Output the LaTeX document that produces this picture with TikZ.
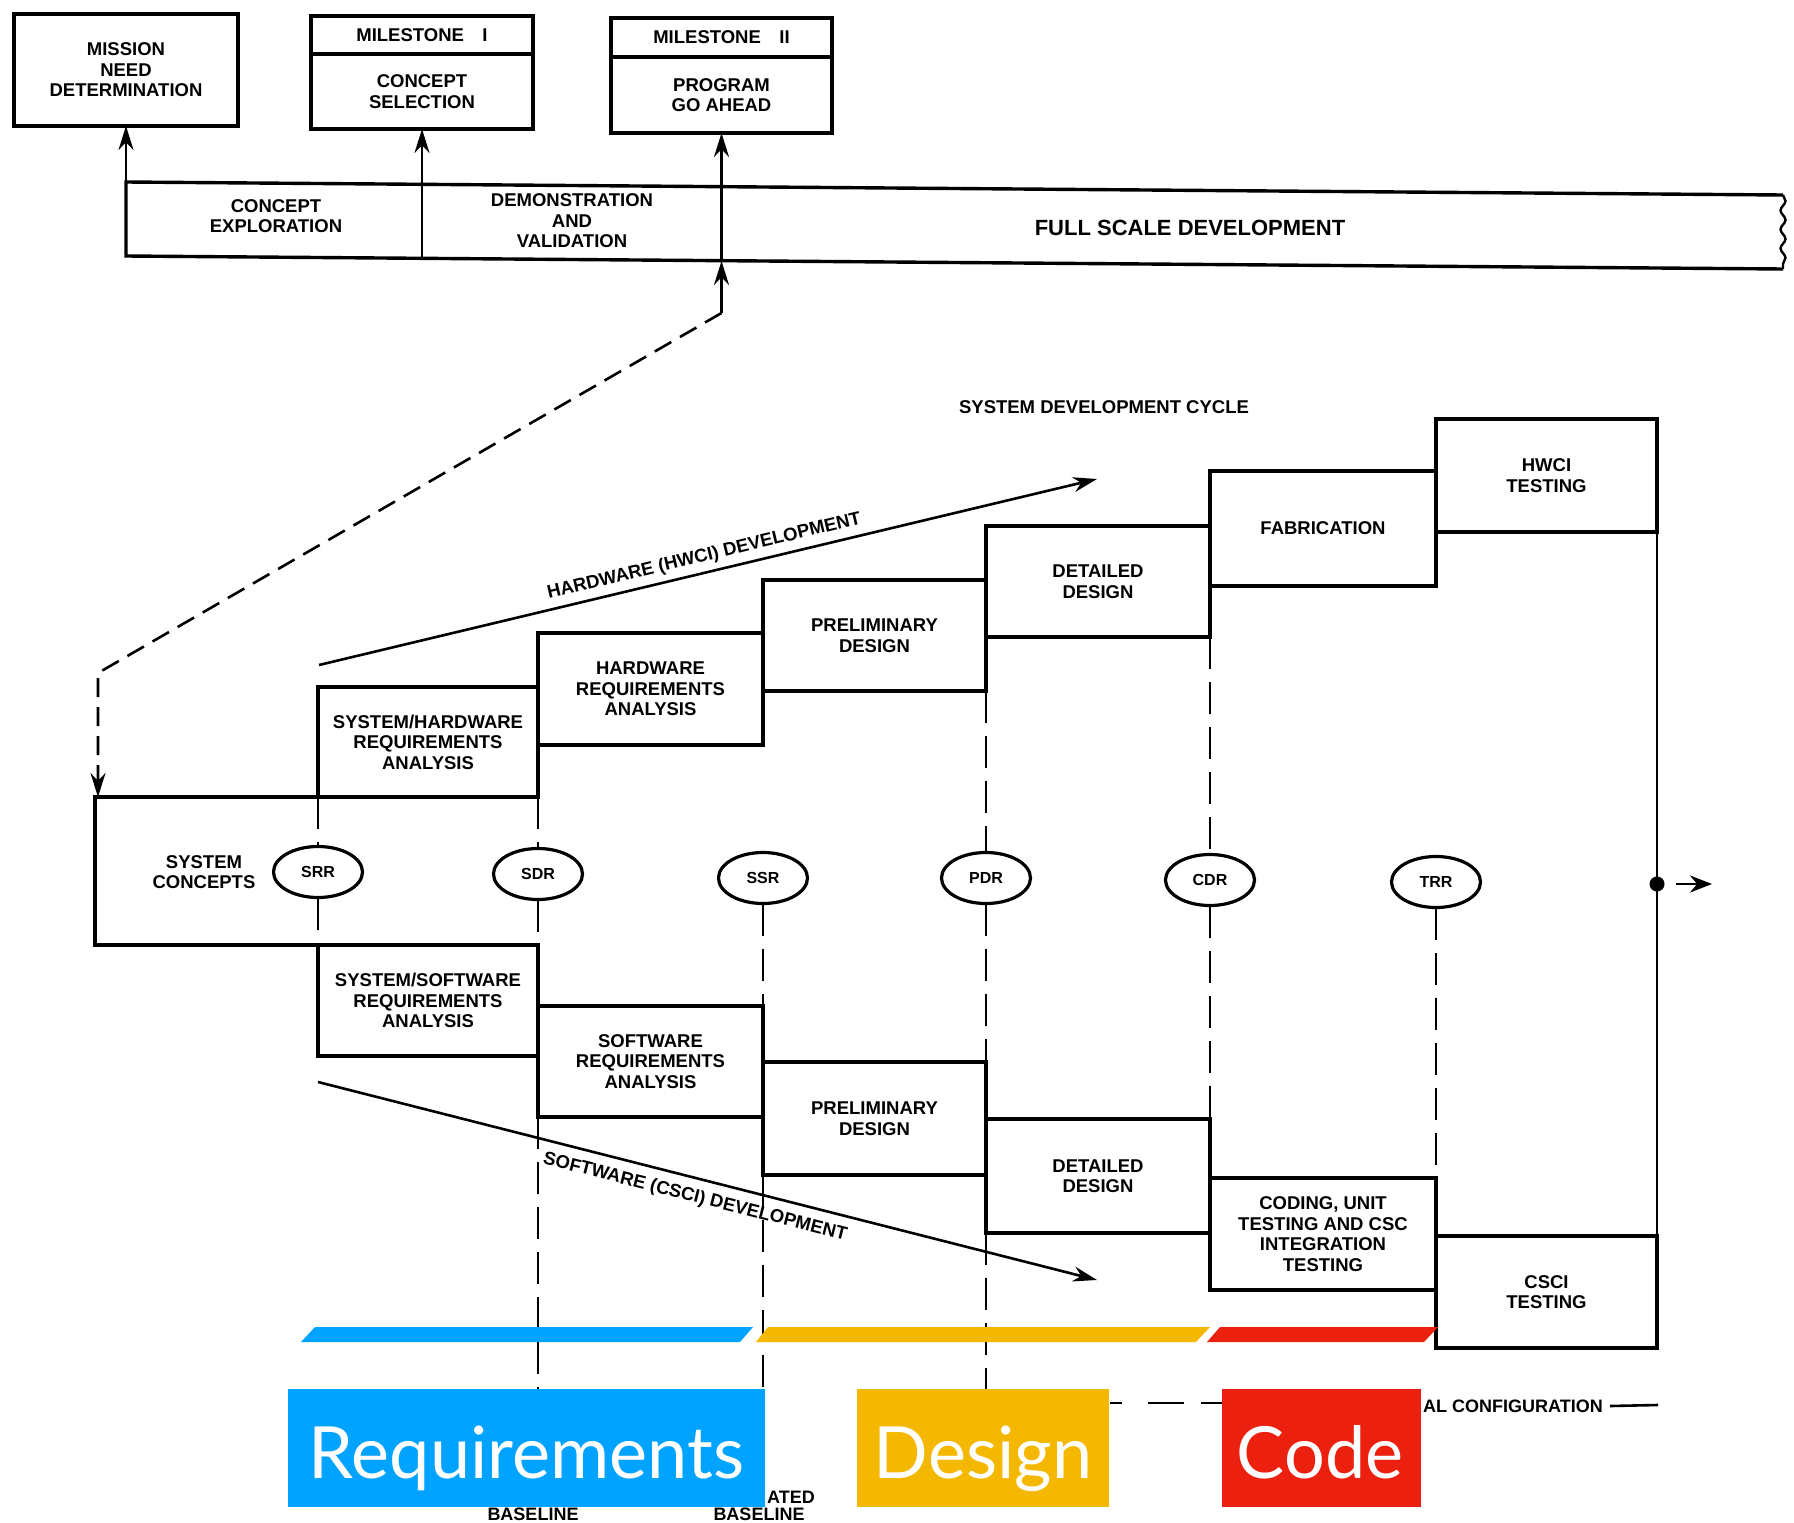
\documentclass[tikz,border=0pt]{standalone}
\usepackage{fontspec}
\setmainfont{Liberation Sans}
\newfontfamily\tagfont{Lato}
\usetikzlibrary{arrows.meta,shapes.geometric,decorations.pathmorphing}

\definecolor{reqblue}{RGB}{0,163,255}
\definecolor{desyellow}{RGB}{245,184,0}
\definecolor{codered}{RGB}{236,32,14}

\tikzset{
  lettering/.style={font=\fontsize{18.5}{20.5}\selectfont\bfseries, align=center, inner sep=0pt},
  bigletter/.style={font=\fontsize{22}{24}\selectfont\bfseries, align=center, inner sep=0pt},
  stagefr/.style={draw, rectangle, line width=3.4pt, outer sep=0pt, inner sep=0pt,
                  font=\fontsize{18.5}{20.5}\selectfont\bfseries, align=center},
  reviewel/.style={draw, ellipse, line width=3.2pt, minimum width=89pt, minimum height=51pt,
                   inner sep=0pt, outer sep=0pt, font=\fontsize{16}{18}\selectfont\bfseries},
  plainlink/.style={line width=2.6pt},
  headed/.style={-{Stealth[length=24pt,width=15pt]}},
  revline/.style={line width=2.4pt, dash pattern=on 32pt off 13pt},
  dashlink/.style={line width=2.6pt, dash pattern=on 19pt off 10pt},
  tagbox/.style={rectangle, inner sep=0pt, outer sep=0pt, minimum height=118pt},
  tagword/.style={font=\tagfont\fontsize{72}{72}\selectfont, text=white, inner sep=0pt, anchor=base},
  annot/.style={font=\fontsize{18}{20}\selectfont\bfseries, inner sep=0pt},
}

% rectangle given by its corners, with centred text
\newcommand\stagebox[6]{%
  \node[stagefr, minimum width={(#4-#2)*1pt}, minimum height={(#5-#3)*1pt}]
    (#1) at ({(#2+#4)/2},{(#3+#5)/2}) {#6};}

\begin{document}
\begin{tikzpicture}[x=1pt,y=-1pt]
\useasboundingbox (0,0) rectangle (1794,1523);
\fill[white] (0,0) rectangle (1794,1523);

% ---- acquisition milestones ----
\stagebox{mnd}{14}{14}{238}{126}{MISSION\\NEED\\DETERMINATION}
\stagebox{msoneh}{311}{16}{533}{54}{MILESTONE\quad I}
\stagebox{msone}{311}{54}{533}{129}{CONCEPT\\SELECTION}
\stagebox{mstwoh}{611}{18}{832}{57}{MILESTONE\quad II}
\stagebox{mstwo}{611}{57}{832}{133}{PROGRAM\\GO AHEAD}

% ---- acquisition phase band ----
\coordinate (bandTL) at (126,182);
\coordinate (bandBL) at (126,256);
\coordinate (bandTR) at (1783,195);
\coordinate (bandBR) at (1783,269);
\coordinate (dividerA) at (422,258);
\coordinate (dividerB) at (721.5,261);
\draw[line width=3.4pt] (bandTR) -- (bandTL) -- (bandBL) -- (bandBR);
\draw[line width=2.4pt, decorate, decoration={snake, amplitude=2.5pt, segment length=19pt}]
  (bandTR) -- (bandBR);

\draw[plainlink, headed] (bandBL) -- (mnd.south);
\draw[plainlink, headed] (dividerA) -- (msone.south);
\draw[plainlink, headed] (dividerB) -- (mstwo.south);

\node[lettering] (ce) at (276,216) {CONCEPT\\EXPLORATION};
\node[lettering] (dv) at (572,221) {DEMONSTRATION\\AND\\VALIDATION};
\node[bigletter] (fsd) at (1190,228) {FULL SCALE DEVELOPMENT};

% ---- system development cycle ----
\node[lettering] (sdc) at (1104,407) {SYSTEM DEVELOPMENT CYCLE};

% hardware steps
\stagebox{hone}{318}{687}{538}{797}{SYSTEM/HARDWARE\\REQUIREMENTS\\ANALYSIS}
\stagebox{htwo}{538}{633}{763}{745}{HARDWARE\\REQUIREMENTS\\ANALYSIS}
\stagebox{hthree}{763}{580}{986}{691}{PRELIMINARY\\DESIGN}
\stagebox{hfour}{986}{526}{1210}{637}{DETAILED\\DESIGN}
\stagebox{hfive}{1210}{471}{1436}{586}{FABRICATION}
\stagebox{hsix}{1436}{419}{1657}{532}{HWCI\\TESTING}

% system concepts: open on the right, where the SDR line runs
\coordinate (scNW) at (95,797);
\coordinate (scSW) at (95,945);
\coordinate (scNE) at (538,797);
\coordinate (scSE) at (538,945);
\draw[line width=3.4pt] (scNE) -- (scNW) -- (scSW) -- (scSE);
\node[lettering] (sctext) at (204,872) {SYSTEM\\CONCEPTS};

% software steps
\stagebox{sone}{318}{945}{538}{1056}{SYSTEM/SOFTWARE\\REQUIREMENTS\\ANALYSIS}
\stagebox{stwo}{538}{1006}{763}{1117}{SOFTWARE\\REQUIREMENTS\\ANALYSIS}
\stagebox{sthree}{763}{1062}{986}{1175}{PRELIMINARY\\DESIGN}
\stagebox{sfour}{986}{1119}{1210}{1233}{DETAILED\\DESIGN}
\stagebox{sfive}{1210}{1178}{1436}{1290}{CODING, UNIT\\TESTING AND CSC\\INTEGRATION\\TESTING}
\stagebox{ssix}{1436}{1236}{1657}{1348}{CSCI\\TESTING}

% reviews
\node[reviewel] (srr) at (318,872) {SRR};
\node[reviewel] (sdr) at (538,874) {SDR};
\node[reviewel] (ssr) at (763,878) {SSR};
\node[reviewel] (pdr) at (986,878) {PDR};
\node[reviewel] (cdr) at (1210,880) {CDR};
\node[reviewel] (trr) at (1436,882) {TRR};

% review lines
\coordinate (fbase) at (538,1389);
\coordinate (abase) at (763,1389);
\coordinate (pbase) at (986,1389);
\draw[revline] (hone.south west) -- (srr.north);
\draw[revline] (srr.south) -- (sone.north west);
\draw[revline] (hone.south east) -- (sdr.north);
\draw[revline] (sdr.south) -- (scSE);
\draw[revline] (stwo.south west) -- (fbase);
\draw[revline] (ssr.south) -- (stwo.north east);
\draw[revline] (sthree.south west) -- (abase);
\draw[revline] (hthree.south east) -- (pdr.north);
\draw[revline] (pdr.south) -- (sthree.north east);
\draw[revline] (sfour.south west) -- (pbase);
\draw[revline] (hfour.south east) -- (cdr.north);
\draw[revline] (cdr.south) -- (sfour.north east);
\draw[revline] (trr.south) -- (ssix.north west);

% integration line and output
\draw[line width=2.2pt] (hsix.south east) -- (ssix.north east);
\node[circle, fill, inner sep=0pt, minimum size=15pt] (join) at (1657,884) {};
\coordinate (outstart) at (1676,884);
\coordinate (outend) at (1712,884);
\draw[plainlink, -{Stealth[length=22pt,width=17pt]}] (outstart) -- (outend);

% hardware / software development arrows
\coordinate (hws) at (319,665);
\coordinate (hwe) at (1097,479);
\draw[plainlink, -{Stealth[length=24pt,width=15pt]}] (hws) --
  node[lettering, sloped, above=6pt] (hwlabel) {HARDWARE (HWCI) DEVELOPMENT} (hwe);
\coordinate (sws) at (318,1082);
\coordinate (swe) at (1097,1280);
\draw[plainlink, -{Stealth[length=24pt,width=15pt]}] (sws) --
  node[lettering, sloped, below=9pt, pos=0.49] (swlabel) {SOFTWARE (CSCI) DEVELOPMENT} (swe);

% link from milestone II down to system concepts
\coordinate (kneetop) at (721.5,313);
\coordinate (kneebot) at (98,673);
\draw[dashlink, headed] (kneetop) -- (kneebot) -- (kneebot |- scNW);
\draw[plainlink, headed] (kneetop) -- (dividerB);

% baselines along the bottom
\node[annot] (fbl) at (533,1514) {BASELINE};
\node[annot, anchor=west] (abltop) at (767,1497) {ATED};
\node[annot] (abl) at (759,1514) {BASELINE};
\draw[line width=2.4pt] (1110,1403) -- (1122,1403);
\draw[line width=2.4pt] (1148,1403) -- (1184,1403);
\draw[line width=2.4pt] (1201,1403) -- (1224,1403);
\node[annot, anchor=west] (dconf) at (1423,1406) {AL CONFIGURATION};
\coordinate (dconfend) at (1658,1405);
\draw[plainlink] ([xshift=7pt]dconf.east) -- (dconfend);

% phase bars
\fill[reqblue] (315,1327) -- (753,1327) -- (740,1342) -- (301,1342) -- cycle;
\fill[desyellow] (768,1327) -- (1210,1327) -- (1196,1342) -- (756,1342) -- cycle;
\fill[codered] (1220,1327) -- (1438,1327) -- (1424,1342) -- (1207,1342) -- cycle;

% phase tags
\node[tagbox, fill=reqblue, minimum width=477pt] (req) at (526.5,1448) {};
\node[tagword] (reqword) at (526.5,1478) {Requirements};
\node[tagbox, fill=desyellow, minimum width=252pt] (des) at (983,1448) {};
\node[tagword] (desword) at (983,1478) {Design};
\node[tagbox, fill=codered, minimum width=199pt] (code) at (1321.5,1448) {};
\node[tagword] (codeword) at (1320,1478) {Code};
\end{tikzpicture}
\end{document}
